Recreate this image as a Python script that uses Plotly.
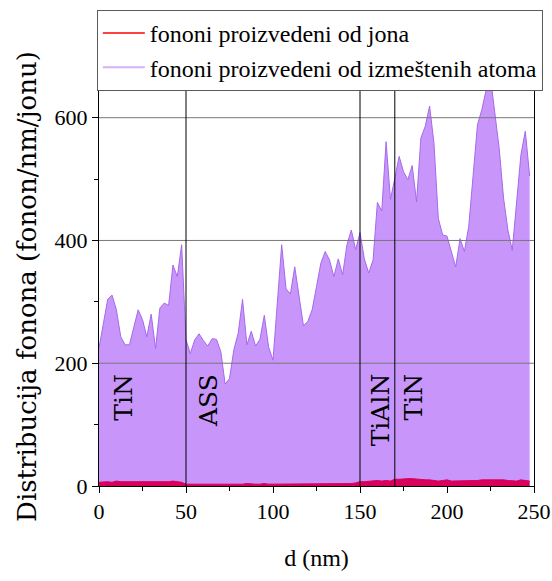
## ----------- imports ----------- ##
import plotly.graph_objects as go


## ----------- data ----------- ##
D_NM = [i * 2.5 for i in range(100)]  ## depth, 2.5 nm bins

PHONONS_ATOMS = [
    225, 265, 304, 311, 287, 243, 230, 230, 258, 287,
    271, 243, 280, 224, 290, 298, 294, 360, 341, 393,
    238, 216, 238, 248, 237, 228, 240, 239, 219, 166,
    175, 222, 249, 304, 230, 252, 228, 239, 278, 226,
    205, 295, 393, 321, 313, 357, 311, 261, 268, 287,
    325, 363, 382, 368, 341, 370, 344, 393, 417, 385,
    413, 370, 347, 368, 462, 448, 561, 467, 501, 537,
    512, 499, 522, 463, 567, 586, 619, 559, 436, 409,
    407, 382, 357, 403, 382, 423, 510, 588, 613, 645,
    665, 612, 550, 469, 417, 384, 466, 540, 578, 505,
]

PHONONS_IONS = [
    6, 7, 7, 6, 8, 7, 7, 6, 6, 6, 6, 7, 6, 6, 6, 7, 7, 8, 7, 6,
    3, 3, 3, 3, 3, 2, 3, 3, 3, 3, 3, 3, 3, 3, 4, 3, 3, 3, 4, 3,
    3, 4, 4, 3, 4, 3, 3, 4, 4, 4, 3, 3, 4, 3, 4, 4, 4, 4, 4, 5,
    7, 7, 8, 8, 9, 8, 9, 8,
    11, 11, 12, 12, 12, 11, 11, 10, 10, 9, 8, 9, 10, 8, 8, 8,
    9, 9, 9, 9, 10, 10, 11, 11, 11, 10, 9, 8, 8, 10, 9, 8,
]

NAME_IONS = "fononi proizvedeni od jona"
NAME_ATOMS = "fononi proizvedeni od izmeštenih atoma"

LAYER_BOUNDS = [50, 150, 170]  ## interface positions (nm)
LAYER_NAMES = ["TiN", "ASS", "TiAlN", "TiN"]
LAYER_LABEL_X = [14, 63, 161.5, 180.5]
LABEL_TOP = 186

Y_GRID = [200, 400, 600]

## ----------- styles ----------- ##
SERIF_H = "Liberation Serif"
SERIF_R = "DejaVu Serif"
PURPLE_FILL = "rgb(200,150,250)"
PURPLE_LINE = "rgb(165,105,235)"
PURPLE_LEGEND = "rgb(212,178,250)"
RED_FILL = "rgb(215,0,90)"
RED_LINE = "rgb(255,0,0)"

## drop the default 8px page margin so the figure fills the window exactly
PAGE_FIX = "document.body.style.margin='0';document.body.style.overflow='hidden';"


def build_figure():
    fig = go.Figure()

    ## areas (kept out of the legend, legend gets plain lines below)
    fig.add_trace(go.Scatter(
        x=D_NM, y=PHONONS_ATOMS, mode="lines", fill="tozeroy",
        fillcolor=PURPLE_FILL, line=dict(color=PURPLE_LINE, width=1),
        showlegend=False, name=NAME_ATOMS,
    ))
    fig.add_trace(go.Scatter(
        x=D_NM, y=PHONONS_IONS, mode="lines", fill="tozeroy",
        fillcolor=RED_FILL, line=dict(color=RED_FILL, width=1),
        showlegend=False, name=NAME_IONS,
    ))

    ## legend entries
    fig.add_trace(go.Scatter(x=[None], y=[None], mode="lines",
                             line=dict(color=RED_LINE, width=1.5), name=NAME_IONS))
    fig.add_trace(go.Scatter(x=[None], y=[None], mode="lines",
                             line=dict(color=PURPLE_LEGEND, width=2), name=NAME_ATOMS))

    ## gridlines on top of the fills
    for yv in Y_GRID:
        fig.add_shape(type="line", xref="paper", x0=0, x1=1, yref="y", y0=yv, y1=yv,
                      line=dict(color="rgb(120,120,120)", width=1), layer="above")

    ## layer interfaces
    for xv in LAYER_BOUNDS:
        fig.add_shape(type="line", xref="x", x0=xv, x1=xv, yref="paper", y0=0, y1=1,
                      line=dict(color="black", width=1), layer="above")

    for name, xv in zip(LAYER_NAMES, LAYER_LABEL_X):
        fig.add_annotation(x=xv, y=LABEL_TOP, text=name, textangle=-90, showarrow=False,
                           xanchor="center", yanchor="top",
                           font=dict(family=SERIF_R, size=25, color="black"))

    fig.update_layout(
        width=552, height=581,
        margin=dict(l=99, r=18, t=87, b=95, autoexpand=False),
        paper_bgcolor="white", plot_bgcolor="white",
        font=dict(family=SERIF_H, size=21, color="black"),
        showlegend=True,
        legend=dict(
            x=-0.005, y=1.193, xanchor="left", yanchor="top",
            bgcolor="white", bordercolor="rgb(90,90,90)", borderwidth=1,
            font=dict(family=SERIF_H, size=24, color="black"),
            tracegroupgap=0, itemwidth=42,
        ),
    )

    fig.update_xaxes(
        range=[0, 250], tickvals=[0, 50, 100, 150, 200, 250],
        ticks="outside", ticklen=6, tickcolor="black",
        minor=dict(dtick=25, ticks="outside", ticklen=4, tickcolor="black"),
        showline=True, linecolor="black", linewidth=1, mirror=True,
        showgrid=False, zeroline=False, automargin=False,
        tickfont=dict(family=SERIF_H, size=22),
        title=dict(text="d (nm)", font=dict(family=SERIF_H, size=24), standoff=25),
    )
    fig.update_yaxes(
        range=[0, 650], tickvals=[0, 200, 400, 600],
        ticks="outside", ticklen=6, tickcolor="black",
        minor=dict(tickvals=[100, 300, 500], ticks="outside", ticklen=4, tickcolor="black"),
        showline=True, linecolor="black", linewidth=1, mirror=True,
        showgrid=False, zeroline=False, automargin=False,
        tickfont=dict(family=SERIF_H, size=22),
        title=dict(text="Distribucija fonona (fonon/nm/jonu)",
                   font=dict(family=SERIF_R, size=26), standoff=10),
    )
    return fig


def main():
    fig = build_figure()
    fig.write_html("out.html", post_script=PAGE_FIX,
                   config={"displayModeBar": False})


if __name__ == "__main__":
    main()
